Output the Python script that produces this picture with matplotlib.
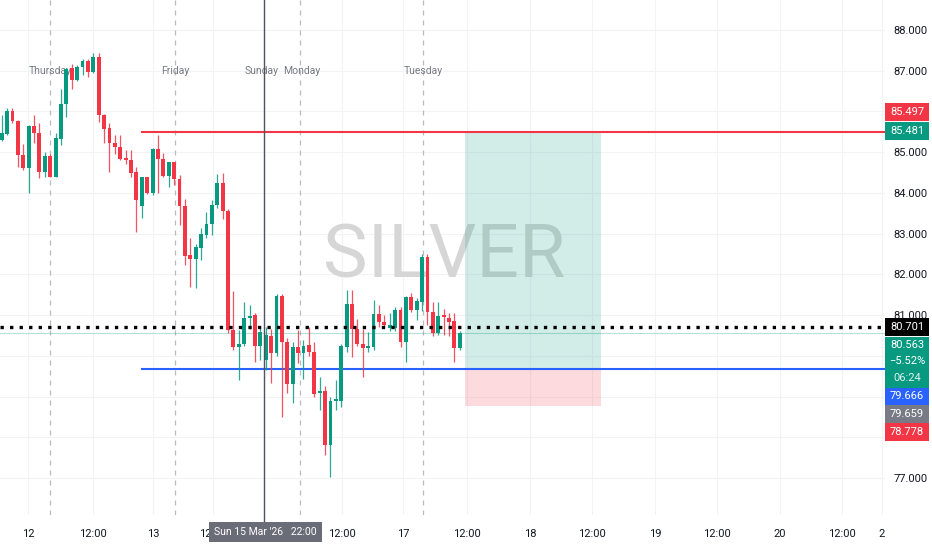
import matplotlib
matplotlib.use("Agg")
import matplotlib.pyplot as plt
import matplotlib.transforms as mtransforms
from matplotlib import font_manager
from matplotlib.patches import Rectangle

# hourly SILVER candles (oldest first)
opens = [85.30, 85.45, 86.01, 85.77, 84.93, 84.60, 85.64, 85.46, 84.52, 84.91,
         84.40, 85.32, 86.18, 87.06, 86.77, 87.10, 87.25, 86.96, 87.33, 85.91,
         85.59, 85.23, 85.12, 84.85, 84.81, 84.51, 83.68, 84.38, 84.01, 85.08,
         84.83, 84.42, 84.75, 84.33, 83.68, 82.48, 82.37, 82.66, 82.97, 83.24,
         83.70, 84.25, 83.56, 80.63, 80.22, 80.29, 80.92, 81.00, 80.24, 79.91,
         80.49, 80.06, 81.47, 80.35, 79.31, 80.22, 80.08, 80.27, 80.10, 79.08,
         79.14, 77.81, 78.90, 78.90, 80.22, 81.27, 80.65, 80.29, 80.20, 80.21,
         81.03, 80.84, 80.68, 80.68, 81.13, 80.35, 81.44, 81.13, 81.33, 82.43,
         81.08, 80.57, 81.00, 80.92, 80.86, 80.19]
highs = [85.91, 86.08, 86.08, 85.80, 85.20, 85.66, 85.91, 85.72, 85.01, 84.95,
         85.46, 86.54, 87.06, 87.17, 87.14, 87.30, 87.28, 87.43, 87.44, 85.93,
         85.72, 85.42, 85.42, 85.05, 85.05, 84.64, 84.40, 84.40, 85.10, 85.42,
         84.97, 84.77, 84.77, 84.45, 83.85, 82.89, 82.75, 83.13, 83.54, 83.83,
         84.46, 84.50, 83.60, 81.58, 80.63, 81.33, 81.25, 81.06, 80.70, 80.70,
         80.65, 81.52, 81.52, 80.45, 80.35, 80.63, 80.40, 80.72, 80.35, 79.49,
         79.25, 79.00, 79.41, 80.30, 81.62, 81.62, 80.90, 80.65, 80.59, 81.37,
         81.26, 81.00, 81.06, 81.19, 81.19, 81.48, 81.55, 81.43, 82.50, 82.50,
         81.33, 81.33, 81.14, 81.06, 81.05, 80.60]
lows = [85.28, 85.42, 85.71, 84.64, 84.56, 83.99, 85.22, 84.36, 84.40, 84.38,
        84.38, 85.18, 85.86, 86.54, 86.75, 86.90, 86.84, 86.94, 85.75, 85.22,
        84.52, 84.96, 84.80, 84.72, 84.40, 83.03, 83.38, 83.98, 83.95, 83.99,
        84.40, 84.15, 84.20, 83.21, 82.23, 81.70, 81.66, 82.35, 82.90, 82.97,
        83.62, 83.35, 80.55, 80.14, 79.41, 80.25, 80.65, 79.86, 79.90, 79.65,
        79.33, 80.00, 78.50, 79.08, 78.85, 79.82, 79.42, 80.00, 79.00, 78.67,
        77.57, 77.03, 78.67, 78.75, 80.10, 79.98, 80.25, 79.49, 80.10, 80.15,
        80.72, 80.70, 80.62, 80.62, 80.22, 79.86, 81.08, 80.88, 81.10, 80.75,
        80.49, 80.50, 80.52, 80.49, 79.86, 80.15]
closes = [85.46, 86.02, 85.77, 84.93, 84.60, 85.64, 85.46, 84.52, 84.91, 84.40,
          85.34, 86.18, 87.04, 86.77, 87.10, 87.25, 86.96, 87.33, 85.91, 85.56,
          85.23, 85.12, 84.83, 84.81, 84.50, 83.83, 84.38, 84.01, 85.08, 84.83,
          84.42, 84.75, 84.33, 83.68, 82.45, 82.37, 82.68, 82.99, 83.24, 83.70,
          84.25, 83.56, 80.63, 80.22, 80.29, 80.92, 80.98, 80.24, 80.59, 80.51,
          80.06, 81.47, 80.35, 79.31, 80.22, 80.08, 80.24, 80.10, 79.06, 79.14,
          77.81, 78.90, 78.92, 80.24, 81.27, 80.65, 80.29, 80.19, 80.21, 81.03,
          80.84, 80.76, 80.76, 81.13, 80.35, 81.44, 81.13, 81.35, 82.43, 81.08,
          80.57, 80.98, 80.95, 80.84, 80.19, 80.563]

# time axis (bar index positions)
xtick_pos = [4.9, 16.9, 28.1, 39.2, 63.1, 74.5, 86.3, 98.0, 109.5, 121.2, 132.7, 144.4, 155.9, 163.3]
xtick_labels = ['12', '12:00', '13', '12:00', '12:00', '17', '12:00', '18', '12:00', '19',
                '12:00', '20', '12:00', '2']
session_breaks = [8.96, 32.2, 55.4, 78.2]
day_names = ['Thursday', 'Friday', 'Sunday', 'Monday', 'Tuesday']
day_pos = [8.96, 32.2, 48.2, 55.7, 78.2]
crosshair_x = 48.7
crosshair_label = "Sun 15 Mar '26   22:00"

# drawings
resistance = 85.497
support = 79.666
line_start = 26.0
last_price = 80.701
current_close = 80.563
change_pct = '\u22125.52%'
countdown = '06:24'
pos_start, pos_end = 86.0, 111.2
target, entry, stop = 85.481, 79.659, 78.778

price_ticks = list(range(77, 89))
hidden_ticks = [79, 80, 86]   # covered by the price-scale labels

GREEN = '#089981'
RED = '#f23645'
BLUE = '#2962ff'
TXT = '#131722'

names = {f.name for f in font_manager.fontManager.ttflist}
fam = 'Liberation Sans Narrow' if 'Liberation Sans Narrow' in names else 'Roboto'
plt.rcParams['font.family'] = [fam, 'DejaVu Sans']

fig = plt.figure(figsize=(9.32, 5.5), dpi=100)
ax = fig.add_axes([0, 35 / 550, 885 / 932, 515 / 550])
ax.set_xlim(-0.315, 163.9)
ax.set_ylim(76.092, 88.737)

for s in ax.spines.values():
    s.set_visible(False)

# grid
for p in price_ticks:
    ax.axhline(p, color='#f2f3f5', lw=0.8, zorder=0)
for t in xtick_pos:
    ax.axvline(t, color='#f2f3f5', lw=0.8, zorder=0)

# watermark
ax.text(0.502, 0.5, 'SILVER', transform=ax.transAxes, ha='center', va='center',
        fontsize=54, color='#d6d6d6', zorder=0.5)

# session separators
for b in session_breaks:
    ax.axvline(b, color='#b8bbc2', lw=0.9, ls=(0, (4, 4)), zorder=1)
ax.axvline(crosshair_x, ymin=-0.012, color='#50535e', lw=1.0, zorder=6, clip_on=False)
dt = mtransforms.blended_transform_factory(ax.transData, ax.transAxes)
for name, p in zip(day_names, day_pos):
    ax.text(p, 0.862, name, transform=dt, ha='center', va='center',
            fontsize=7.5, color='#787b86', zorder=2)

# position tool
ax.add_patch(Rectangle((pos_start, entry), pos_end - pos_start, target - entry,
                       facecolor=GREEN, alpha=0.18, edgecolor='none', zorder=1))
ax.add_patch(Rectangle((pos_start, stop), pos_end - pos_start, entry - stop,
                       facecolor=RED, alpha=0.18, edgecolor='none', zorder=1))

# horizontal lines
ax.plot([line_start, 163.9], [resistance, resistance], color=RED, lw=1.5, zorder=3)
ax.plot([line_start, 163.9], [support, support], color=BLUE, lw=1.5, zorder=3)
ax.axhline(current_close, color=GREEN, lw=0.8, alpha=0.3, zorder=2)
ax.axhline(last_price, color='black', lw=2.4, ls=(0, (1, 1.86)), zorder=4)

# candles
x = list(range(len(closes)))
cols = [GREEN if c >= o else RED for o, c in zip(opens, closes)]
ax.vlines(x, lows, highs, colors=cols, lw=0.9, alpha=0.85, zorder=3)
bottoms = [min(o, c) for o, c in zip(opens, closes)]
heights = [max(abs(c - o), 0.03) for o, c in zip(opens, closes)]
ax.bar(x, heights, bottom=bottoms, width=0.72, color=cols, zorder=3.5, linewidth=0)

# axes ticks
ax.yaxis.tick_right()
ax.set_yticks(price_ticks)
ax.set_yticklabels(['' if p in hidden_ticks else f'{p:.3f}' for p in price_ticks])
ax.tick_params(axis='y', length=0, pad=6, labelsize=8, labelcolor=TXT)
ax.set_xticks(xtick_pos)
ax.set_xticklabels(xtick_labels)
ax.tick_params(axis='x', length=0, pad=10, labelsize=8, labelcolor=TXT)

# crosshair time label
ax.text(48.95, -0.033, crosshair_label, transform=dt,
        ha='center', va='center', fontsize=7.5, color='white', zorder=10, clip_on=False,
        bbox=dict(boxstyle='square,pad=0.5', facecolor='#6a6d78', edgecolor='none'))

# price scale labels (value, colour, slot centre in price units)
scale_labels = [
    ('85.497', RED, 85.99),
    ('85.481', GREEN, 85.52),
    ('80.701', 'black', 80.71),
    ('79.666', BLUE, 79.01),
    ('79.659', '#787b86', 78.57),
    ('78.778', RED, 78.13),
]
bt = mtransforms.blended_transform_factory(ax.transAxes, ax.transData)
box_h = 18 / 40.73
for txt, col, yc in scale_labels:
    ax.add_patch(Rectangle((1.0, yc - box_h / 2), 44 / 885, box_h, transform=bt,
                           facecolor=col, edgecolor='none', zorder=9, clip_on=False))
    ax.text(1.0 + 22 / 885, yc, txt, transform=bt, ha='center', va='center',
            fontsize=8, color='white', zorder=10, clip_on=False)

# current price block
blk_top, blk_bot = 80.47, 79.22
ax.add_patch(Rectangle((1.0, blk_bot), 44 / 885, blk_top - blk_bot, transform=bt,
                       facecolor=GREEN, edgecolor='none', zorder=9, clip_on=False))
for txt, yc, c in [(f'{current_close:.3f}', 80.27, 'white'), (change_pct, 79.87, 'white'),
                   (countdown, 79.45, '#e0f2ee')]:
    ax.text(1.0 + 22 / 885, yc, txt, transform=bt, ha='center', va='center',
            fontsize=8, color=c, zorder=10, clip_on=False)

fig.savefig('out.png', dpi=100)
